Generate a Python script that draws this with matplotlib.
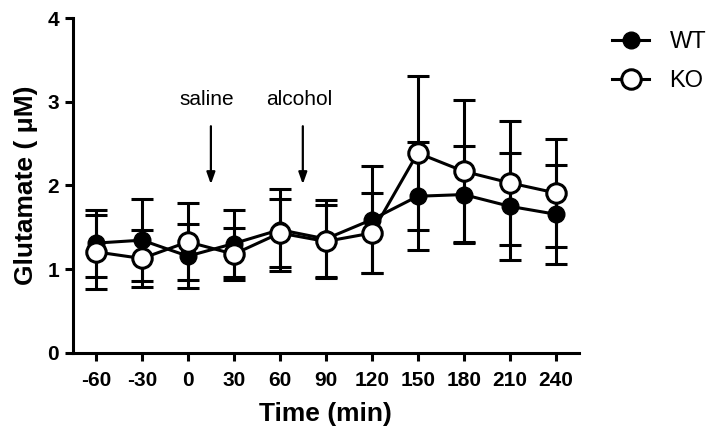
import numpy as np
import matplotlib
matplotlib.use("Agg")
import matplotlib.pyplot as plt
from matplotlib.lines import Line2D

plt.rcParams['font.family'] = ['Liberation Sans', 'DejaVu Sans']

# data (mean +/- error), glutamate in uM
time_labels = ["-60", "-30", "0", "30", "60", "90", "120", "150", "180", "210", "240"]
wt_mean = [1.31, 1.345, 1.154, 1.305, 1.47, 1.36, 1.59, 1.87, 1.89, 1.75, 1.655]
wt_err = [0.40, 0.49, 0.38, 0.40, 0.49, 0.465, 0.64, 0.645, 0.58, 0.64, 0.59]
ko_mean = [1.205, 1.126, 1.325, 1.178, 1.43, 1.33, 1.43, 2.387, 2.168, 2.03, 1.91]
ko_err = [0.44, 0.34, 0.46, 0.31, 0.41, 0.43, 0.48, 0.92, 0.85, 0.74, 0.65]

# injection markers, placed between sampling points
events = ["saline", "alcohol"]
event_pos = [2.5, 4.5]

x = np.arange(len(time_labels))
lw = 2.2

fig = plt.figure(figsize=(7.2, 4.38), dpi=100)
ax = fig.add_axes([0.1014, 0.1947, 0.7022, 0.7642])

ax.errorbar(x, wt_mean, yerr=wt_err, color="k", lw=lw, elinewidth=lw,
            capsize=8, capthick=lw, marker="o", ms=12, mfc="k", mec="k",
            zorder=3)
ax.errorbar(x, ko_mean, yerr=ko_err, color="k", lw=lw, elinewidth=lw,
            capsize=8, capthick=lw, marker="o", ms=14, mfc="white", mec="k",
            mew=2.2, zorder=4)

for name, p in zip(events, event_pos):
    ax.text(p - 0.08, 2.955, name, ha="center", va="baseline", fontsize=15)
    ax.annotate("", xy=(p, 1.98), xytext=(p, 2.74),
                arrowprops=dict(arrowstyle="-|>,head_length=0.7,head_width=0.25",
                                color="k", lw=1.6))

ax.set_xlim(-0.5, len(x) - 0.5)
ax.set_ylim(0, 4)
ax.set_xticks(x)
ax.set_xticklabels(time_labels)
ax.set_yticks([0, 1, 2, 3, 4])
for s in ["top", "right"]:
    ax.spines[s].set_visible(False)
for s in ["left", "bottom"]:
    ax.spines[s].set_linewidth(lw)
ax.tick_params(direction="out", length=6, width=lw, labelsize=15)
ax.tick_params(axis="x", pad=7)
ax.tick_params(axis="y", pad=4)
for lab in ax.get_xticklabels() + ax.get_yticklabels():
    lab.set_fontweight("bold")

ax.set_xlabel("Time (min)", fontsize=19, fontweight="bold", labelpad=9)
ax.set_ylabel("Glutamate ( \u03bcM)", fontsize=19, fontweight="bold", labelpad=7)

handles = [
    Line2D([], [], color="k", lw=lw, marker="o", ms=12, mfc="k", mec="k"),
    Line2D([], [], color="k", lw=lw, marker="o", ms=14, mfc="white", mec="k", mew=2.2),
]
fig.legend(handles, ["WT", "KO"], loc="upper left", bbox_to_anchor=(0.82, 0.977),
           frameon=False, fontsize=17, handlelength=1.6, handletextpad=0.85,
           labelspacing=0.7)

fig.savefig("out.png", dpi=100)
